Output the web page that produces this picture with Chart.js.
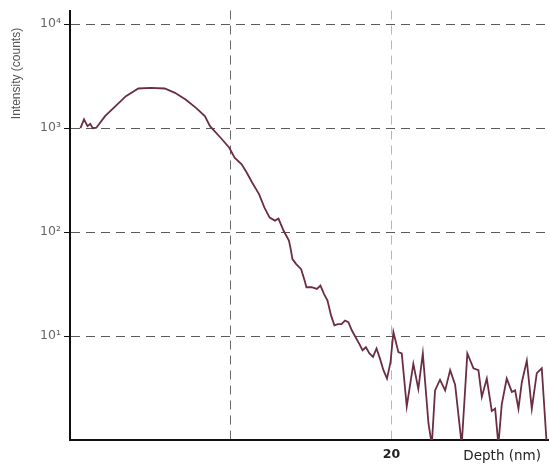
<!DOCTYPE html>
<html>
<head>
<meta charset="utf-8">
<style>
  html, body { margin: 0; padding: 0; background: #fff; }
  #wrap { width: 549px; height: 467px; position: relative; }
</style>
<script src="https://cdn.jsdelivr.net/npm/chart.js@4/dist/chart.umd.min.js"></script>
</head>
<body>
<div id="wrap"><canvas id="c" width="549" height="467"></canvas></div>
<script>
// Depth profile (nm) and measured intensity (counts)
const depthNm = [
  0.65, 0.87, 1.09, 1.26, 1.42, 1.64, 2.18, 2.83, 3.48, 4.25, 5.02, 5.89, 6.53, 7.19, 7.84,
  8.39, 8.71, 9.37, 9.91, 10.24, 10.68, 11.00, 11.33, 11.76, 12.09, 12.42, 12.75, 12.97, 13.29,
  13.62, 13.73, 13.84, 14.06, 14.38, 14.60, 14.71, 15.03, 15.36, 15.58, 15.80, 16.02, 16.24,
  16.45, 16.67, 16.89, 17.11, 17.32, 17.54, 17.76, 17.98, 18.20, 18.41, 18.63, 18.85, 19.07,
  19.28, 19.50, 19.72, 19.94, 20.12, 20.43, 20.64, 20.95, 21.36, 21.67, 21.95, 22.30, 22.51,
  22.71, 23.02, 23.34, 23.65, 23.96, 24.37, 24.72, 25.10, 25.41, 25.62, 25.93, 26.24, 26.45,
  26.65, 26.86, 27.17, 27.49, 27.69, 27.90, 28.11, 28.42, 28.73, 29.04, 29.35, 29.66
];
const intensityCounts = [
  1000, 1215, 1047, 1100, 1000, 1010, 1306, 1629, 2032, 2410, 2440, 2410, 2187, 1888, 1570,
  1306, 1047, 809, 648, 520, 449, 373, 300, 232, 173, 138, 129, 135, 103,
  83, 69, 55, 49.5, 44, 34, 29.5, 29.5, 28.4, 30.6, 25.5, 22, 15.8,
  12.7, 13, 13, 14.1, 13.6, 11.3, 9.8, 8.5, 7.3, 7.8, 6.8, 6.3, 7.6,
  6.1, 4.7, 3.9, 5.6, 10.9, 7.0, 6.8, 2.1, 5.4, 3.1, 6.8, 1.45, 0.9,
  3.0, 3.8, 3.0, 4.7, 3.4, 0.9, 6.8, 4.9, 4.7, 2.6, 3.9, 1.9, 2.0,
  0.9, 2.2, 3.9, 2.9, 3.0, 2.0, 3.6, 5.8, 2.0, 4.4, 4.9, 0.9
];
const xGridValues = [10, 20];
const xTickLabels = { 20: '20' };
const yGridValues = [10, 100, 1000, 10000];
const yTickLabels = { 10: '10\u00B9', 100: '10\u00B2', 1000: '10\u00B3', 10000: '10\u2074' };
const xTitle = 'Depth (nm)';
const yTitle = 'Intensity (counts)';

const points = depthNm.map((d, i) => ({ x: d, y: intensityCounts[i] }));

// Axis titles sit in the corners rather than centred on the axes
const cornerTitles = {
  id: 'cornerTitles',
  afterDraw(chart) {
    const ctx = chart.ctx;
    const area = chart.chartArea;
    ctx.save();
    ctx.fillStyle = '#222';
    ctx.font = '13.5px "DejaVu Sans", sans-serif';
    ctx.textAlign = 'right';
    ctx.textBaseline = 'middle';
    ctx.fillText(xTitle, area.right - 8, area.bottom + 16);
    ctx.translate(17, area.top + 63);
    ctx.rotate(-Math.PI / 2);
    ctx.textAlign = 'center';
    ctx.fillStyle = '#555';
    ctx.font = '12px "Liberation Sans", Arial, sans-serif';
    ctx.fillText(yTitle, 0, 0);
    ctx.restore();
  }
};

new Chart(document.getElementById('c'), {
  type: 'line',
  data: {
    datasets: [{
      data: points,
      borderColor: '#6b2d43',
      borderWidth: 1.8,
      pointRadius: 0,
      tension: 0,
      fill: false
    }]
  },
  options: {
    responsive: false,
    animation: false,
    layout: { padding: { top: 9, right: 0, left: 0, bottom: 0 } },
    plugins: { legend: { display: false }, tooltip: { enabled: false } },
    scales: {
      x: {
        type: 'linear',
        min: 0,
        max: 29.8,
        afterBuildTicks: axis => { axis.ticks = xGridValues.map(v => ({ value: v })); },
        afterFit: scale => { scale.height = 27; },
        border: { display: true, color: '#111', width: 2, dash: [9, 6] },
        grid: {
          drawTicks: false,
          color: ctx => (ctx.tick && ctx.tick.value === 20 ? '#b8b8b8' : '#6a6a6a'),
          lineWidth: 1
        },
        ticks: {
          padding: 7,
          color: '#222',
          font: { family: '"DejaVu Sans", sans-serif', size: 12.5, weight: 'bold' },
          maxRotation: 0,
          callback: v => xTickLabels[v] || ''
        }
      },
      y: {
        type: 'logarithmic',
        min: 1,
        max: 13560,
        afterBuildTicks: axis => { axis.ticks = yGridValues.map(v => ({ value: v })); },
        afterFit: scale => { scale.width = 70; },
        border: { display: true, color: '#111', width: 2, dash: [9, 6] },
        grid: {
          drawTicks: true,
          tickLength: 6,
          tickColor: '#111',
          color: '#5a5a5a',
          lineWidth: 1
        },
        ticks: {
          padding: 3,
          color: '#666',
          font: { family: '"DejaVu Sans", sans-serif', size: 12.5 },
          callback: v => yTickLabels[v] || ''
        }
      }
    }
  },
  plugins: [cornerTitles]
});
</script>
</body>
</html>
